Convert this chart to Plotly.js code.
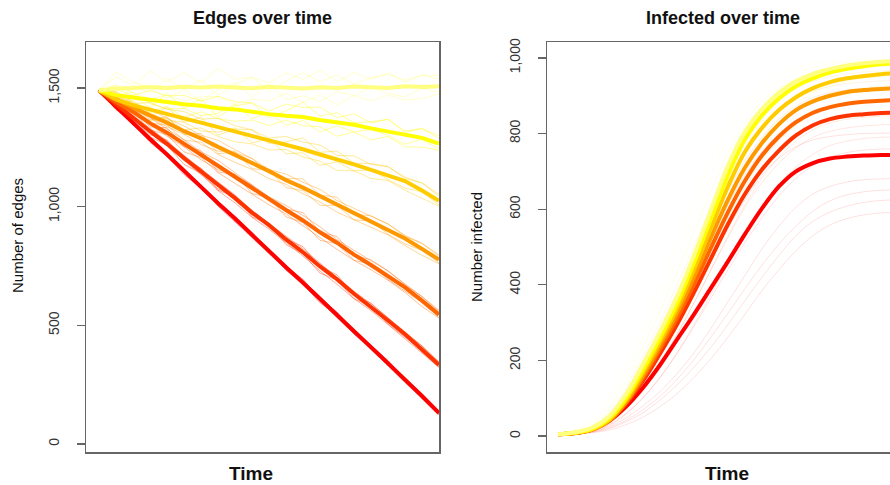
<!DOCTYPE html>
<html>
<head>
<meta charset="utf-8">
<script src="https://cdn.plot.ly/plotly-3.0.1.min.js"></script>
<style>
html,body{margin:0;padding:0;overflow:hidden;background:#fff;}
#chart{width:910px;height:485px;}
</style>
</head>
<body>
<div id="chart"></div>
<script>
// ---------------- DATA ----------------
const time = [0,5,10,15,20,25,30,35,40,45,50,55,60,65,70,75,80,85,90,95,100];
const scenarioColors = ['#FFFF80','#FFFF00','#FFCC00','#FF9900','#FF6600','#FF3300','#FF0000'];

// Edges over time: mean per scenario (pale yellow -> red)
const edgesMean = [
  [1490,1498,1500,1504,1500,1505,1502,1506,1502,1499,1505,1501,1498,1503,1500,1506,1502,1500,1507,1504,1508],
  [1490,1470,1460,1450,1442,1432,1425,1415,1410,1398,1390,1383,1378,1365,1355,1345,1330,1318,1305,1290,1266],
  [1490,1452,1428,1408,1390,1372,1354,1336,1318,1298,1280,1260,1242,1220,1200,1178,1155,1132,1108,1068,1025],
  [1490,1452,1418,1385,1354,1318,1288,1252,1220,1184,1150,1112,1080,1044,1010,972,938,902,866,822,777],
  [1490,1442,1400,1352,1312,1265,1220,1172,1128,1078,1034,986,942,892,848,798,754,706,660,604,545],
  [1490,1430,1375,1318,1265,1205,1150,1090,1036,975,922,862,808,748,694,633,578,520,462,400,333],
  [1490,1420,1354,1285,1220,1150,1085,1015,950,880,815,745,680,610,545,475,408,340,272,202,130]
];
// Edges over time: individual runs per scenario
const edgesRuns = [
  [[1490,1547,1510,1573,1526,1564,1521,1582,1537,1545,1522,1563,1537,1576,1527,1566,1537,1561,1533,1554,1552],
   [1490,1470,1482,1454,1470,1445,1465,1463,1432,1454,1445,1479,1439,1471,1429,1468,1446,1470,1449,1456,1475],
   [1490,1449,1503,1482,1540,1494,1535,1470,1516,1545,1487,1528,1565,1527,1555,1517,1544,1561,1526,1554,1538],
   [1490,1568,1524,1503,1456,1494,1444,1491,1523,1461,1515,1451,1467,1443,1485,1468,1502,1477,1463,1498,1482]],
  [[1490,1495,1469,1490,1467,1469,1445,1465,1443,1437,1403,1432,1418,1420,1374,1392,1353,1368,1319,1329,1299],
   [1490,1434,1447,1396,1423,1375,1400,1371,1360,1365,1342,1365,1341,1337,1297,1315,1281,1296,1252,1251,1238],
   [1490,1418,1464,1418,1478,1414,1456,1377,1426,1437,1375,1404,1440,1382,1396,1354,1358,1368,1313,1329,1288],
   [1490,1512,1480,1434,1412,1414,1384,1393,1432,1370,1398,1343,1363,1315,1341,1315,1325,1301,1263,1284,1244]],
  [[1490,1472,1434,1439,1410,1401,1369,1373,1341,1324,1289,1296,1272,1260,1216,1214,1178,1169,1124,1100,1052],
   [1490,1422,1416,1362,1374,1324,1332,1296,1273,1265,1239,1241,1209,1192,1153,1151,1119,1110,1069,1036,1002],
   [1490,1409,1430,1380,1419,1356,1378,1301,1327,1324,1266,1273,1290,1229,1234,1183,1182,1169,1119,1100,1043],
   [1490,1486,1443,1393,1365,1356,1319,1314,1332,1269,1285,1223,1227,1174,1189,1151,1155,1114,1078,1063,1007]],
  [[1490,1471,1429,1412,1372,1340,1301,1280,1240,1203,1157,1137,1103,1073,1026,993,958,927,879,845,798],
   [1490,1432,1415,1352,1344,1280,1272,1220,1187,1157,1118,1094,1054,1020,977,944,912,881,836,795,759],
   [1490,1422,1426,1366,1379,1305,1308,1224,1229,1203,1139,1119,1117,1049,1040,969,961,927,875,845,791],
   [1490,1482,1436,1376,1337,1305,1262,1234,1233,1160,1154,1080,1068,1006,1005,944,940,884,843,816,763]],
  [[1490,1458,1411,1375,1327,1282,1231,1195,1143,1091,1041,1005,963,915,862,816,773,729,674,621,563],
   [1490,1425,1399,1324,1303,1231,1207,1144,1098,1052,1008,969,921,870,820,774,734,690,638,579,530],
   [1490,1416,1408,1336,1333,1252,1237,1147,1134,1091,1026,990,975,894,874,795,776,729,671,621,557],
   [1490,1467,1417,1345,1297,1252,1198,1156,1137,1055,1038,957,933,858,844,774,758,693,644,597,533]],
  [[1490,1441,1384,1332,1277,1216,1159,1104,1049,983,929,875,823,762,704,643,591,532,472,413,346],
   [1490,1417,1376,1294,1259,1178,1141,1067,1016,955,905,848,792,729,673,612,562,503,445,383,322],
   [1490,1410,1382,1303,1281,1194,1163,1069,1042,983,918,864,832,747,713,627,593,532,469,413,342],
   [1490,1448,1389,1310,1255,1194,1134,1075,1045,957,927,840,801,720,691,612,580,505,450,396,324]],
  [[1490,1428,1358,1295,1226,1159,1089,1026,957,888,818,755,688,622,551,483,415,351,276,210,138],
   [1490,1413,1352,1271,1214,1135,1078,1002,936,870,802,738,669,601,531,464,397,332,259,190,123],
   [1490,1409,1356,1276,1228,1145,1092,1004,953,888,811,748,694,612,556,473,416,351,275,210,136],
   [1490,1433,1361,1281,1212,1145,1074,1008,954,871,816,732,674,595,542,464,408,334,262,199,124]]
];

// Infected over time: mean per scenario (pale yellow -> red)
const infectedMean = [
  [5,10,22,52,110,190,275,368,478,598,715,805,865,908,938,958,971,980,986,990,992],
  [5,9,19,46,100,176,260,350,458,575,690,785,848,893,925,946,961,971,978,983,985],
  [5,9,18,43,95,168,250,338,440,550,660,752,815,862,896,920,936,946,952,957,960],
  [5,8,17,41,90,160,240,325,420,525,625,710,775,825,862,885,900,910,915,918,920],
  [5,8,17,40,88,153,230,312,402,498,592,675,742,792,830,855,870,879,884,887,888],
  [5,8,17,40,85,146,218,295,380,470,560,640,705,755,795,822,838,847,851,854,855],
  [5,8,18,40,78,128,188,255,322,392,462,534,602,660,700,722,734,739,742,743,744]
];
// Infected over time: individual runs per scenario
const infectedRuns = [
  [[5,14,36,85,165,260,360,468,580,690,785,860,910,942,962,975,983,988,991,993,994],
   [5,9,18,42,92,165,248,340,445,558,668,765,835,885,920,942,957,967,974,979,982],
   [5,16,42,100,190,292,398,510,622,728,818,885,930,958,975,985,990,993,995,996,997]],
  [[5,12,30,72,145,235,330,432,540,648,748,828,883,920,945,961,971,978,982,985,987],
   [5,8,16,38,82,148,225,312,410,515,620,712,785,840,880,908,926,938,946,951,954]],
  [[5,11,26,62,128,212,302,398,502,608,705,785,845,888,918,938,950,958,963,966,968],
   [5,8,16,38,85,152,230,315,410,512,612,700,770,822,860,886,903,914,921,925,927]],
  [[5,10,24,58,120,200,288,380,480,580,672,752,815,860,892,912,925,932,936,939,940],
   [5,7,15,36,80,142,215,295,385,480,575,658,728,782,822,850,868,878,884,887,889]],
  [[5,7,14,32,70,125,192,268,352,440,530,612,682,738,780,810,828,838,843,846,848],
   [5,10,23,55,112,188,272,362,458,555,648,728,790,838,872,895,908,915,919,921,922]],
  [[5,7,15,35,75,130,195,270,352,440,525,605,670,722,762,790,806,815,820,823,824],
   [5,9,20,48,100,170,250,335,428,522,612,690,752,800,835,858,872,880,884,886,887],
   [5,7,13,28,58,100,155,220,295,375,455,535,605,665,712,745,768,780,787,790,791]],
  [[5,6,12,25,48,80,118,165,220,285,355,425,495,555,605,640,660,672,678,680,681],
   [5,6,10,20,38,62,95,135,182,235,295,358,420,478,530,568,592,608,618,623,625],
   [5,9,20,48,95,152,222,300,385,470,550,625,690,735,765,783,792,797,800,801,802],
   [5,6,9,16,30,50,78,112,155,205,262,322,385,440,490,530,558,575,585,590,592],
   [5,7,14,30,60,102,155,218,290,365,440,512,578,635,682,715,737,750,756,759,760],
   [5,6,11,22,42,70,105,150,202,262,325,390,452,508,555,595,622,638,646,650,651]]
];

const edgeTicks = [0,500,1000,1500];
const infectedTicks = [0,200,400,600,800,1000];

// ---------------- DRAWING ----------------
const W = 910, H = 485;
function rgba(hex, a){
  const n = parseInt(hex.slice(1),16);
  return 'rgba('+((n>>16)&255)+','+((n>>8)&255)+','+(n&255)+','+a+')';
}
const traces = [];
edgesRuns.forEach((runs,i)=>runs.forEach(r=>traces.push({
  x:time,y:r,xaxis:'x',yaxis:'y',type:'scatter',mode:'lines',
  line:{color:rgba(scenarioColors[i],0.4),width:1},hoverinfo:'skip',showlegend:false})));
infectedRuns.forEach((runs,i)=>runs.forEach(r=>traces.push({
  x:time,y:r,xaxis:'x2',yaxis:'y2',type:'scatter',mode:'lines',
  line:{color:rgba(scenarioColors[i],0.12),width:1,shape:'spline',smoothing:1},hoverinfo:'skip',showlegend:false})));
for(let i=scenarioColors.length-1;i>=0;i--){
  traces.push({x:time,y:edgesMean[i],xaxis:'x',yaxis:'y',type:'scatter',mode:'lines',
    line:{color:scenarioColors[i],width:4},showlegend:false});
  traces.push({x:time,y:infectedMean[i],xaxis:'x2',yaxis:'y2',type:'scatter',mode:'lines',
    line:{color:scenarioColors[i],width:4,shape:'spline',smoothing:1},showlegend:false});
}

const FONT = 'Liberation Sans, Arial, Helvetica, sans-serif';
const boxColor = '#666';
const yDom = [(H-452)/H, (H-42)/H];
function xAxis(dom, range, anchor){
  return {domain:dom, range:range, anchor:anchor, showline:true, mirror:true, linecolor:boxColor, linewidth:1.5,
    showgrid:false, zeroline:false, showticklabels:false, ticks:'', fixedrange:true};
}
function yAxis(range, ticks, anchor){
  return {domain:yDom, range:range, anchor:anchor, showline:true, mirror:true, linecolor:boxColor, linewidth:1.5,
    showgrid:false, zeroline:false, ticks:'outside', ticklen:8, tickwidth:1.3, tickcolor:boxColor,
    tickvals:ticks, tickformat:',', tickangle:-90, ticklabelstandoff:12,
    tickfont:{family:FONT,size:14,color:'#333'}, fixedrange:true};
}
function ann(text, px, py, size, bold, angle){
  return {text: bold ? '<b>'+text+'</b>' : text, xref:'paper', yref:'paper',
    x:px/W, y:1-py/H, xanchor:'center', yanchor:'middle', showarrow:false,
    textangle:angle||0, font:{family:FONT,size:size,color:'#111'}};
}
const layout = {
  width:W, height:H, margin:{l:0,r:0,t:0,b:0},
  paper_bgcolor:'#fff', plot_bgcolor:'#fff',
  xaxis: xAxis([86/W, 439/W], [-3.82, 100], 'y'),
  yaxis: yAxis([-34, 1694], edgeTicks, 'x'),
  xaxis2: xAxis([547/W, 900/W], [-3.24, 100.6], 'y2'),
  yaxis2: yAxis([-42, 1042], infectedTicks, 'x2'),
  annotations: [
    ann('Edges over time', 262, 18, 18, true),
    ann('Infected over time', 723, 18, 18, true),
    ann('Time', 251, 473, 19, true),
    ann('Time', 727, 473, 19, true),
    ann('Number of edges', 17, 236, 15, false, -90),
    ann('Number infected', 477, 247, 15, false, -90)
  ],
  showlegend:false
};
Plotly.newPlot('chart', traces, layout, {staticPlot:true, displayModeBar:false});
</script>
</body>
</html>
